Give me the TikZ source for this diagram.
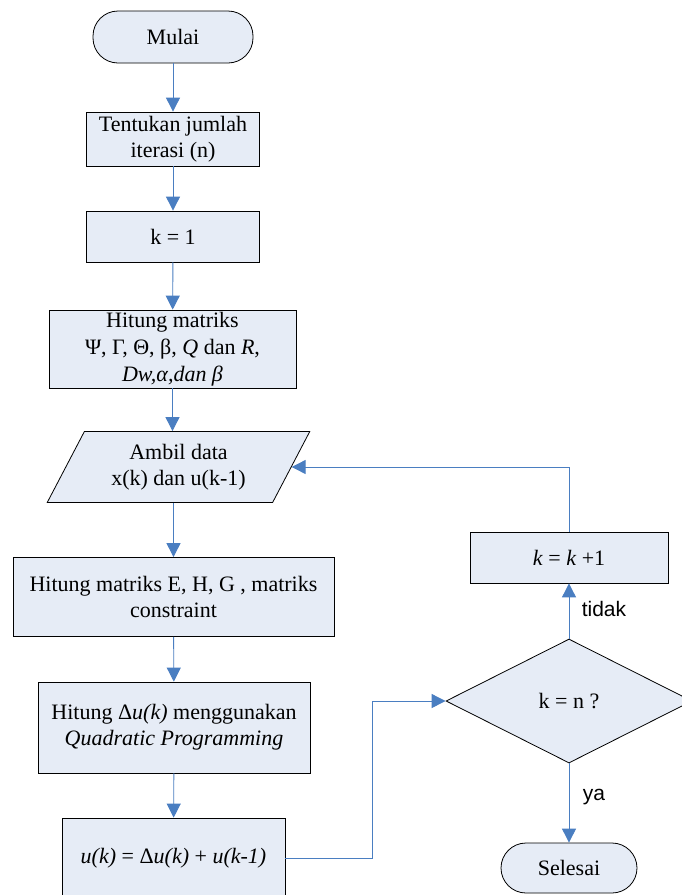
\documentclass[tikz,border=0pt]{standalone}
\usepackage{fontspec}
\setmainfont{Liberation Serif}
\newfontfamily\arialfont{Liberation Sans}
\usetikzlibrary{arrows.meta,shapes.geometric}
\definecolor{boxfill}{RGB}{230,236,246}
\definecolor{lineblue}{RGB}{74,126,193}

\begin{document}
\begin{tikzpicture}[x=1pt,y=-1pt,
        every node/.style={font=\fontsize{22}{26}\selectfont,align=center},
        box/.style={rectangle,draw=black,fill=boxfill,inner sep=1pt,line width=0.8pt},
        term/.style={box,rounded corners=25pt},
        io/.style={trapezium,trapezium left angle=60,trapezium right angle=120,
            trapezium stretches=true,draw=black,fill=boxfill,inner sep=0pt,line width=0.8pt},
        cond/.style={diamond,draw=black,fill=boxfill,inner sep=0pt,line width=0.8pt},
        flow/.style={draw=lineblue,line width=0.9pt,-{Triangle[length=14pt,width=14pt]}},
        lbl/.style={font=\arialfont\fontsize{21}{25}\selectfont}]
\useasboundingbox (0,0) rectangle (682,895);
\clip (0,0) rectangle (682,895);
\fill[white] (0,0) rectangle (682,895);

\node[term,minimum width=160,minimum height=52] (mulai) at (173,37) {Mulai};
\node[box,minimum width=173,minimum height=54] (iterasi) at (173,139) {Tentukan jumlah\\iterasi (n)};
\node[box,minimum width=173,minimum height=51] (kawal) at (173,236.5) {k = 1};
\node[box,minimum width=247,minimum height=78,font=\fontsize{22}{27}\selectfont] (matriks) at (172.5,349)
    {Hitung matriks\\Ψ, Γ, Θ, β, \textit{Q} dan \textit{R},\\\textit{Dw,α,dan β}};
\node[io,minimum width=263,minimum height=71] (ambil) at (178.5,467) {Ambil data\\x(k) dan u(k-1)};
\node[box,minimum width=321,minimum height=79] (hitungE) at (173.5,597)
    {Hitung matriks E, H, G , matriks\\constraint};
\node[box,minimum width=272,minimum height=91] (hitungdu) at (174,727.5)
    {Hitung Δ\textit{u(k)} menggunakan\\\textit{Quadratic Programming}};
\node[box,minimum width=223,minimum height=80] (uk) at (173.5,858)
    {\textit{u(k)} = Δ\textit{u(k)} + \textit{u(k-1)}};
\node[cond,minimum width=246,minimum height=124] (cek) at (569,701) {k = n ?};
\node[box,minimum width=198,minimum height=51] (tambah) at (569,557.5) {\textit{k} = \textit{k} +1};
\node[term,minimum width=136,minimum height=50] (selesai) at (569,868) {Selesai};
\coordinate (belok) at (372,701);

% alur utama
\draw[flow] (mulai) -- (iterasi);
\draw[flow] (iterasi) -- (kawal);
\draw[flow] (kawal) -- (matriks);
\draw[flow] (matriks.south) -- (matriks.south |- ambil.north);
\draw[flow] (ambil.south -| hitungE.north) -- (hitungE.north);
\draw[flow] (hitungE) -- (hitungdu);
\draw[flow] (hitungdu) -- (uk);
\draw[flow] (uk.east) -| (belok) -- (cek.west);
% keputusan
\draw[flow] (cek.north) -- (tambah.south) node[lbl,midway,right,xshift=9pt,yshift=2pt] {tidak};
\draw[flow] (cek.south) -- (selesai.north) node[lbl,midway,right,xshift=10pt,yshift=6pt] {ya};
\draw[flow] (tambah.north) |- (ambil.east);
\end{tikzpicture}
\end{document}
